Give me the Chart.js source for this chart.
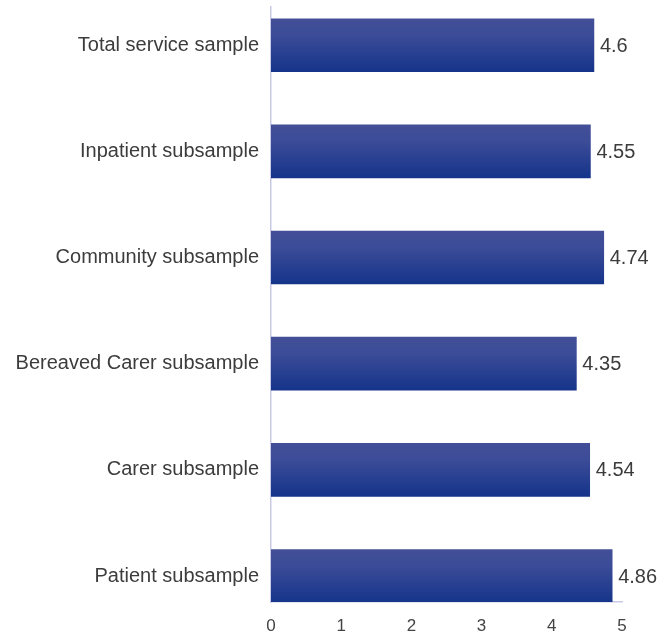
<!DOCTYPE html>
<html>
<head>
<meta charset="utf-8">
<script src="https://cdn.jsdelivr.net/npm/chart.js@4/dist/chart.umd.min.js"></script>
<style>
  html, body { margin: 0; padding: 0; background: #ffffff; }
  #wrap { width: 670px; height: 635px; }
</style>
</head>
<body>
<div id="wrap"><canvas id="chart" width="670" height="635"></canvas></div>
<script>
// Mean scores per sample group
const categories = [
  'Total service sample',
  'Inpatient subsample',
  'Community subsample',
  'Bereaved Carer subsample',
  'Carer subsample',
  'Patient subsample'
];
const scores = [4.6, 4.55, 4.74, 4.35, 4.54, 4.86];
const xTicks = [0, 1, 2, 3, 4, 5];

const AXIS_COLOR = '#c9c9e6';
const TEXT_COLOR = '#3c3c3c';
const FONT = '"Liberation Sans", Arial, Helvetica, sans-serif';
const BAR_THICKNESS = 53;

// vertical gradient spanning each individual bar
function barGradient(context) {
  const chart = context.chart;
  const yScale = chart.scales.y;
  if (!chart.chartArea || !yScale) return '#2a3f8f';
  const yc = yScale.getPixelForValue(context.dataIndex);
  const top = yc - BAR_THICKNESS / 2;
  const bottom = yc + BAR_THICKNESS / 2;
  const g = chart.ctx.createLinearGradient(0, top, 0, bottom);
  g.addColorStop(0, '#434f97');
  g.addColorStop(0.3, '#3c4c98');
  g.addColorStop(1, '#15348a');
  return g;
}

// value printed just right of each bar end
const valueLabels = {
  id: 'valueLabels',
  afterDatasetsDraw(chart) {
    const ctx = chart.ctx;
    const meta = chart.getDatasetMeta(0);
    ctx.save();
    ctx.font = '20px ' + FONT;
    ctx.fillStyle = TEXT_COLOR;
    ctx.textAlign = 'left';
    ctx.textBaseline = 'middle';
    meta.data.forEach((bar, i) => {
      ctx.fillText(String(scores[i]), bar.x + 6, bar.y + 1);
    });
    ctx.restore();
  }
};

new Chart(document.getElementById('chart'), {
  type: 'bar',
  data: {
    datasets: [{
      data: scores.map((v, i) => ({ x: v, y: i })),
      backgroundColor: barGradient,
      borderWidth: 0,
      barThickness: BAR_THICKNESS
    }]
  },
  options: {
    indexAxis: 'y',
    responsive: false,
    animation: false,
    layout: { padding: { top: 7, right: 48, bottom: 0, left: 0 } },
    plugins: {
      legend: { display: false },
      tooltip: { enabled: false }
    },
    scales: {
      x: {
        type: 'linear',
        min: 0,
        max: 5,
        afterBuildTicks(scale) { scale.ticks = xTicks.map(v => ({ value: v })); },
        afterFit(scale) { scale.height = 33; },
        grid: { display: false, drawTicks: false },
        border: { display: true, color: AXIS_COLOR, width: 1.5 },
        ticks: {
          padding: 14,
          color: '#444444',
          font: { family: FONT, size: 17 },
          maxRotation: 0
        }
      },
      y: {
        type: 'linear',
        reverse: true,
        offset: false,
        min: -0.36,
        max: 5.245,
        afterBuildTicks(scale) { scale.ticks = categories.map((c, i) => ({ value: i })); },
        afterFit(scale) {
          scale.width = 271;
          scale.paddingTop = 0;
          scale.paddingBottom = 0;
        },
        grid: { display: false, drawTicks: false },
        border: { display: true, color: AXIS_COLOR, width: 1.5 },
        ticks: {
          padding: 12,
          color: TEXT_COLOR,
          font: { family: FONT, size: 20 },
          callback: (value) => categories[value] ?? ''
        }
      }
    }
  },
  plugins: [valueLabels]
});
</script>
</body>
</html>
